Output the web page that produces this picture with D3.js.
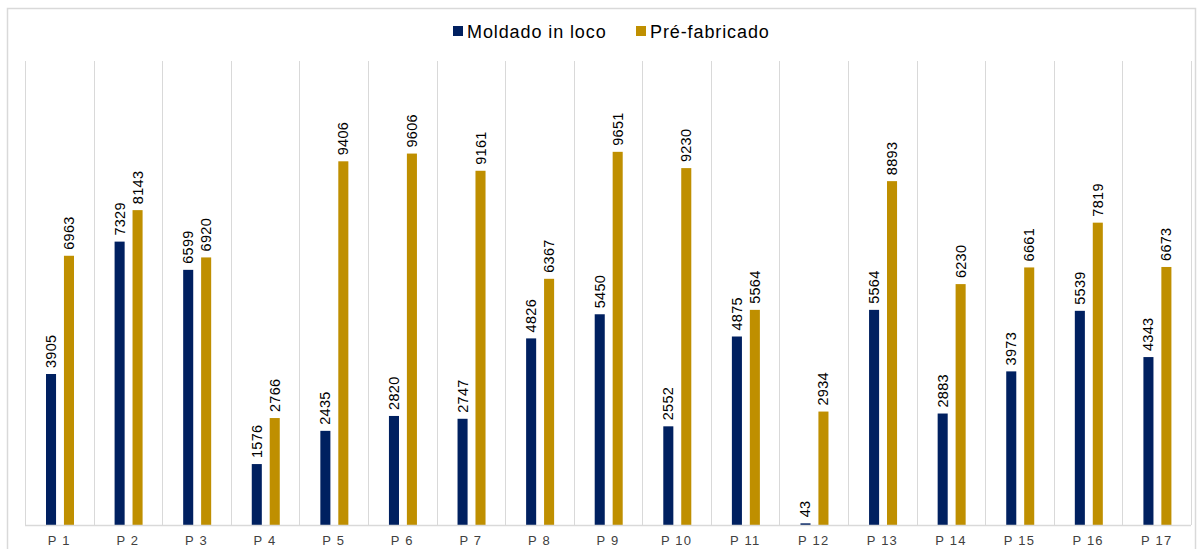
<!DOCTYPE html>
<html>
<head>
<meta charset="utf-8">
<script src="https://cdn.jsdelivr.net/npm/d3@7"></script>
<style>
    body { margin: 0; background: #fff; }
    svg { display: block; font-family: "Liberation Sans", Arial, sans-serif; }
</style>
</head>
<body>
<svg width="1199" height="549"></svg>
<script>
const categories = ['P1', 'P2', 'P3', 'P4', 'P5', 'P6', 'P7', 'P8', 'P9', 'P10', 'P11', 'P12', 'P13', 'P14', 'P15', 'P16', 'P17'],
    moldado = [3905, 7329, 6599, 1576, 2435, 2820, 2747, 4826, 5450, 2552, 4875, 43, 5564, 2883, 3973, 5539, 4343],
    preFab = [6963, 8143, 6920, 2766, 9406, 9606, 9161, 6367, 9651, 9230, 5564, 2934, 8893, 6230, 6661, 7819, 6673],
    seriesNames = ['Moldado in loco', 'Pré-fabricado'],
    colors = ['#002060', '#bf8f00'];

const svg = d3.select('svg'),
    margin = {top: 61, right: 8, bottom: 24, left: 25},
    width = +svg.attr('width') - margin.left - margin.right,
    height = +svg.attr('height') - margin.top - margin.bottom;

// outer frame
svg.append('rect')
    .attr('x', 7.5).attr('y', 8.5)
    .attr('width', 1188).attr('height', 560)
    .attr('fill', 'none')
    .attr('stroke', '#d9d9d9')
    .attr('stroke-width', 1.5);

const g = svg.append('g').attr('transform', `translate(${margin.left},${margin.top})`);

const x = d3.scaleBand().domain(categories).range([0, width]);
const y = d3.scaleLinear().domain([0, 12000]).range([height, 0]);
const inner = d3.scaleBand().domain([0, 1]).range([21, 49]).paddingInner(0.44);

// vertical separators
g.selectAll('line.sep')
    .data(d3.range(categories.length + 1))
    .enter().append('line')
        .attr('x1', (i) => Math.round(i * x.step()) + 0.5)
        .attr('x2', (i) => Math.round(i * x.step()) + 0.5)
        .attr('y1', 0)
        .attr('y2', height)
        .attr('stroke', '#d9d9d9')
        .attr('stroke-width', 1);

// bars
const groups = g.selectAll('g.cat')
    .data(categories)
    .enter().append('g')
        .attr('transform', (d) => `translate(${x(d)},0)`);

[moldado, preFab].forEach((vals, s) => {
    groups.append('rect')
        .attr('x', inner(s))
        .attr('width', inner.bandwidth())
        .attr('y', (d, i) => y(vals[i]))
        .attr('height', (d, i) => height - y(vals[i]))
        .attr('fill', colors[s]);

    groups.append('text')
        .attr('transform', (d, i) => `translate(${inner(s) + inner.bandwidth() / 2 + 5},${y(vals[i]) - 6}) rotate(-90)`)
        .attr('font-size', 14.5)
        .attr('letter-spacing', 0.3)
        .attr('fill', '#000')
        .text((d, i) => vals[i]);
});

// baseline
g.append('line')
    .attr('x1', 0).attr('x2', width)
    .attr('y1', height + 0.5).attr('y2', height + 0.5)
    .attr('stroke', '#d9d9d9')
    .attr('stroke-width', 1.5);

// category labels
g.selectAll('text.cat')
    .data(categories)
    .enter().append('text')
        .attr('x', (d) => x(d) + x.bandwidth() / 2)
        .attr('y', height + 20)
        .attr('text-anchor', 'middle')
        .attr('font-size', 13)
        .attr('letter-spacing', 1.2)
        .attr('fill', '#404040')
        .text((d) => d.replace('P', 'P '));

// legend
const legend = svg.append('g').attr('transform', 'translate(453,31)');
const legendX = [0, 183];
seriesNames.forEach((name, i) => {
    legend.append('rect')
        .attr('x', legendX[i]).attr('y', -5)
        .attr('width', 10).attr('height', 10)
        .attr('fill', colors[i]);
    legend.append('text')
        .attr('x', legendX[i] + 14).attr('y', 7)
        .attr('font-size', 18)
        .attr('letter-spacing', 0.9)
        .attr('fill', '#000')
        .text(name);
});
</script>
</body>
</html>
